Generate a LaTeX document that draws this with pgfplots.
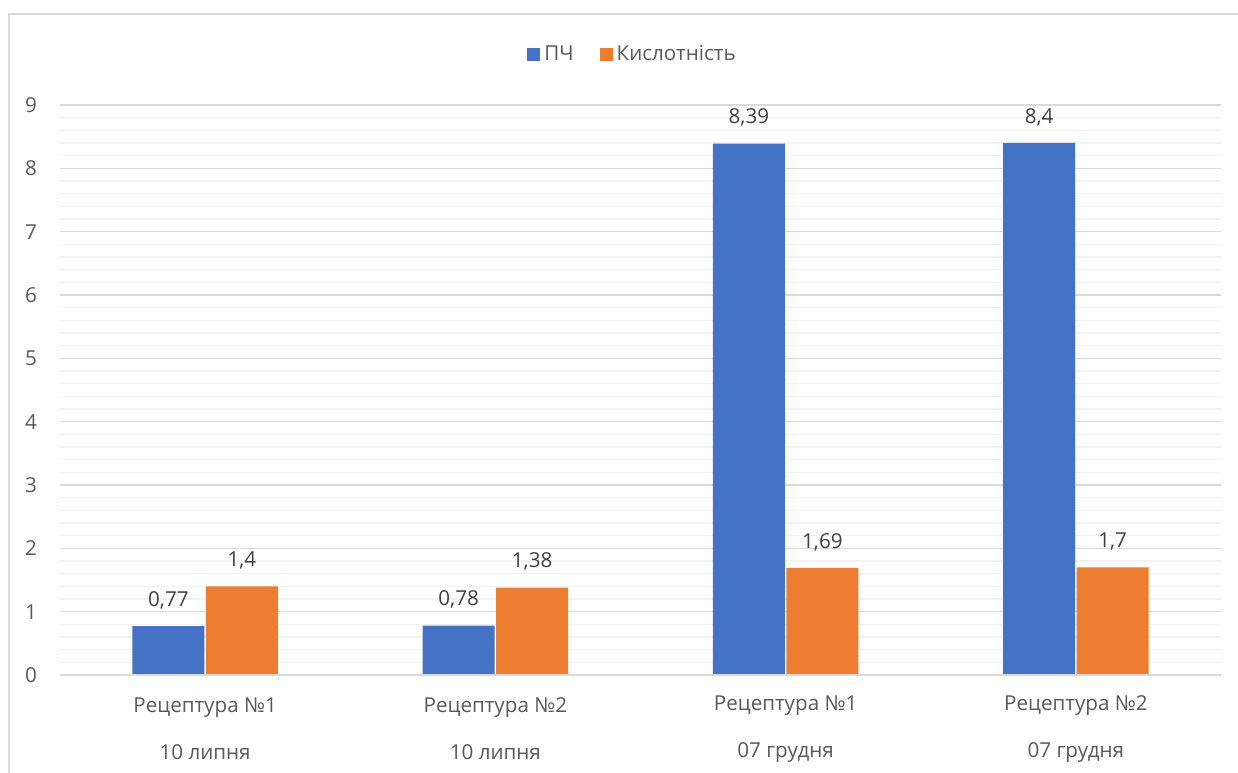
\documentclass[border=0pt]{standalone}
\usepackage{fontspec}
\setmainfont{Open Sans}
\usepackage{pgfplots}
\pgfplotsset{compat=1.18}
\definecolor{pblue}{HTML}{4472C4}
\definecolor{porange}{HTML}{ED7D31}
\definecolor{gridmaj}{HTML}{D9D9D9}
\definecolor{gridmin}{HTML}{F2F2F2}
\definecolor{txt}{HTML}{595959}
\definecolor{lbl}{HTML}{404040}
\begin{document}
\begin{tikzpicture}[font=\fontsize{10.3}{12.4}\selectfont]
\begin{axis}[
  scale only axis, width=580.5pt, height=285pt,
  xmin=-0.5, xmax=3.5, ymin=0, ymax=9,
  axis line style={draw=none},
  ytick={0,1,...,9}, minor y tick num=4,
  ymajorgrids, yminorgrids,
  major grid style={gridmaj, line width=0.75pt},
  minor grid style={gridmin, line width=0.75pt},
  major tick length=0pt, minor tick length=0pt,
  tick style={draw=none},
  yticklabel style={txt, anchor=east, xshift=-8pt},
  /pgf/number format/assume math mode=true,
  xtick={0,1,2,3},
  xticklabels={{Рецептура №1\\[11pt]10 липня},{Рецептура №2\\[11pt]10 липня},{Рецептура №1\\[11pt]07 грудня},{Рецептура №2\\[11pt]07 грудня}},
  xticklabel style={txt, align=center, anchor=center, yshift=-27pt},
  ybar=0.75pt, bar width=36pt,
  nodes near coords,
  nodes near coords style={lbl, anchor=center, yshift=13pt, /pgf/number format/use comma, /pgf/number format/assume math mode=true},
  legend columns=2,
  legend style={at={(0.494,1.089)}, anchor=center, draw=none, fill=none, text=txt,
    /tikz/every even column/.append style={column sep=11pt}},
  legend image code/.code={\fill[#1] (0pt,-3.25pt) rectangle (6.5pt,3.25pt);},
]
\addplot[fill=pblue, draw=none] coordinates {(0,0.77) (1,0.78) (2,8.39) (3,8.4)};
\addplot[fill=porange, draw=none] coordinates {(0,1.4) (1,1.38) (2,1.69) (3,1.7)};
\legend{ПЧ, Кислотність}
\draw[gridmaj, line width=0.75pt] (rel axis cs:0,0) -- (rel axis cs:1,0);
\pgfplotsinvokeforeach{-0.5,0.5,1.5,2.5,3.5}{
  \draw[gridmaj, line width=0.75pt] (axis cs:#1,0) -- ++(0pt,-60pt);
}
\end{axis}
\draw[gridmaj, line width=1pt] (-25.5pt,-60pt) -- (-25.5pt,330.5pt) -- (600pt,330.5pt);
\pgfresetboundingbox
\useasboundingbox (-30pt,-48.5pt) rectangle (589pt,337.5pt);
\end{tikzpicture}
\end{document}
